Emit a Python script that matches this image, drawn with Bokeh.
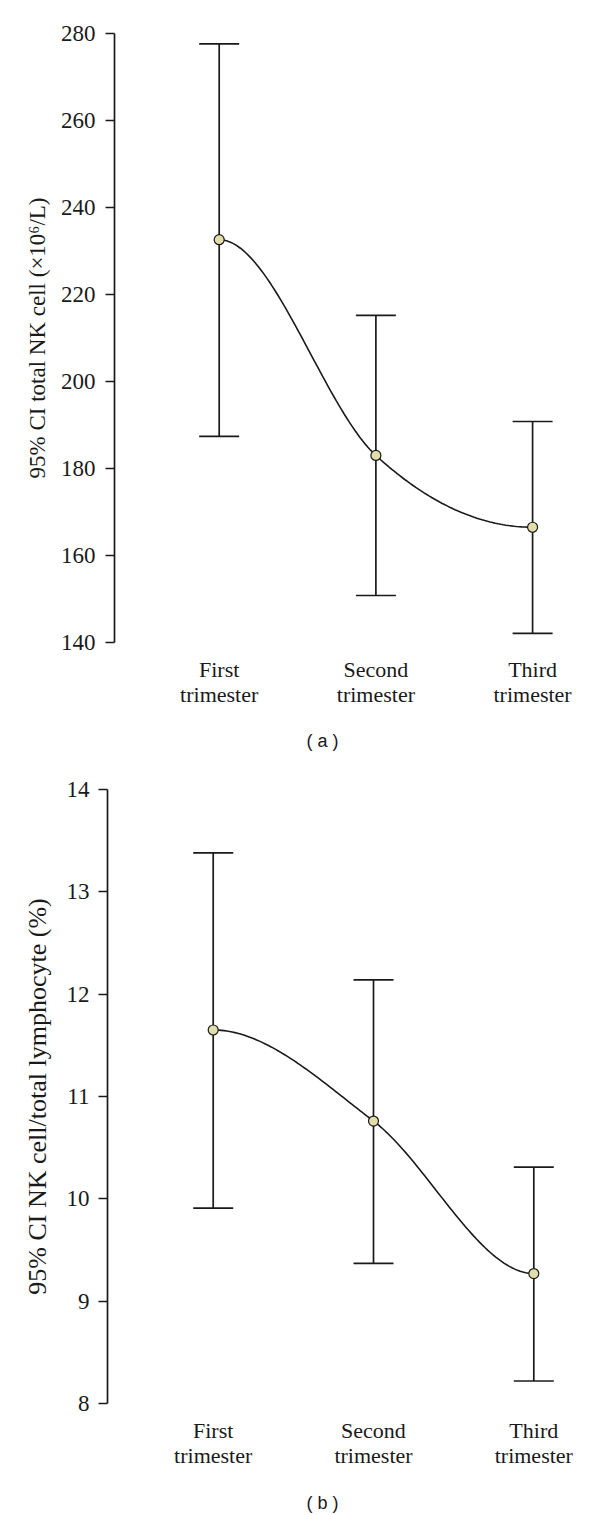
from bokeh.plotting import figure
from bokeh.models import Range1d, FixedTicker, Whisker, TeeHead, ColumnDataSource
from bokeh.core.properties import value
from bokeh.embed import file_html
from bokeh.resources import INLINE
import numpy as np

# ---- data ----
categories = ["First\ntrimester", "Second\ntrimester", "Third\ntrimester"]
x_pos = [1, 2, 3]

nk_mean = [232.6, 183.0, 166.5]
nk_upper = [277.6, 215.2, 190.8]
nk_lower = [187.4, 150.8, 142.1]
nk_ticks = [140, 160, 180, 200, 220, 240, 260, 280]

pct_mean = [11.65, 10.76, 9.27]
pct_upper = [13.38, 12.14, 10.31]
pct_lower = [9.91, 9.37, 8.22]
pct_ticks = [8, 9, 10, 11, 12, 13, 14]

captions = ["( a )", "( b )"]

SERIF = "Liberation Serif"
INK = "#1a1a1a"
W = 592


def smooth_curve(xs, ys, n=60):
    xs = np.asarray(xs, float)
    ys = np.asarray(ys, float)
    m = np.zeros(len(xs))
    for i in range(1, len(xs) - 1):
        m[i] = (ys[i + 1] - ys[i - 1]) / (xs[i + 1] - xs[i - 1])
    out_x, out_y = [], []
    for i in range(len(xs) - 1):
        h = xs[i + 1] - xs[i]
        t = np.linspace(0, 1, n)
        h00 = 2 * t**3 - 3 * t**2 + 1
        h10 = t**3 - 2 * t**2 + t
        h01 = -2 * t**3 + 3 * t**2
        h11 = t**3 - t**2
        yy = h00 * ys[i] + h10 * h * m[i] + h01 * ys[i + 1] + h11 * h * m[i + 1]
        out_x.extend(list(xs[i] + t * h))
        out_y.extend(list(yy))
    return out_x, out_y


def make_panel(mean, upper, lower, ticks, ylabel, height, x_range, y_range,
               border_left, border_top, border_bottom,
               label_standoff, label_size, tick_standoff):
    p = figure(width=W, height=height, output_backend="svg", toolbar_location=None,
               x_range=Range1d(*x_range), y_range=Range1d(*y_range),
               min_border_left=border_left, min_border_right=10,
               min_border_top=border_top, min_border_bottom=border_bottom)
    p.outline_line_color = None
    p.grid.visible = False
    p.background_fill_color = "white"
    p.border_fill_color = "white"

    src = ColumnDataSource(dict(x=x_pos, mean=mean, upper=upper, lower=lower))
    w = Whisker(source=src, base="x", upper="upper", lower="lower", dimension="height",
                line_width=1.7, line_color=INK,
                upper_head=TeeHead(size=40, line_width=1.7, line_color=INK),
                lower_head=TeeHead(size=40, line_width=1.7, line_color=INK),
                level="underlay")
    p.add_layout(w)

    cx, cy = smooth_curve(x_pos, mean)
    p.line(cx, cy, line_width=1.6, line_color=INK)
    p.scatter("x", "mean", source=src, size=10, fill_color="#e2deab",
              line_color=INK, line_width=1.2)

    ya = p.yaxis[0]
    ya.ticker = FixedTicker(ticks=ticks)
    ya.axis_line_width = 1.7
    ya.axis_line_color = INK
    ya.major_tick_line_width = 1.7
    ya.major_tick_line_color = INK
    ya.major_tick_out = 9
    ya.major_tick_in = 0
    ya.minor_tick_line_color = None
    ya.major_label_text_font = SERIF
    ya.major_label_text_font_size = "23px"
    ya.major_label_text_color = INK
    ya.major_label_standoff = tick_standoff
    ya.axis_label = ylabel
    ya.axis_label_text_font = SERIF
    ya.axis_label_text_font_size = label_size
    ya.axis_label_text_font_style = "normal"
    ya.axis_label_text_color = INK
    ya.axis_label_standoff = label_standoff

    xa = p.xaxis[0]
    xa.ticker = FixedTicker(ticks=x_pos)
    xa.major_label_overrides = {x: c for x, c in zip(x_pos, categories)}
    xa.axis_line_color = None
    xa.major_tick_line_color = None
    xa.minor_tick_line_color = None
    xa.major_tick_out = 0
    xa.major_tick_in = 0
    xa.major_label_text_font = SERIF
    xa.major_label_text_font_size = "22px"
    xa.major_label_text_line_height = 1.0
    xa.major_label_text_color = INK
    xa.major_label_standoff = 14
    return p


def make_caption(text, height, cx, cy_from_top):
    c = figure(width=W, height=height, output_backend="svg", toolbar_location=None,
               x_range=Range1d(0, W), y_range=Range1d(0, height),
               x_axis_type=None, y_axis_type=None, min_border=0)
    c.outline_line_color = None
    c.grid.visible = False
    c.text(x=[cx], y=[height - cy_from_top], text=[text], text_align="center",
           text_baseline="middle", text_font=value("Liberation Sans"),
           text_font_size="18px", text_color=INK)
    return c


p1 = make_panel(nk_mean, nk_upper, nk_lower, nk_ticks,
                "95% CI total NK cell (\u00d710\u2076/L)",
                height=712, x_range=(0.3319, 3.3185), y_range=(140, 280),
                border_left=114, border_top=33, border_bottom=70,
                label_standoff=8, label_size="23px", tick_standoff=10)
cap1 = make_caption(captions[0], 58, 322, 28)
p2 = make_panel(pct_mean, pct_upper, pct_lower, pct_ticks,
                "95% CI NK cell/total lymphocyte (%)",
                height=703, x_range=(0.3406, 3.3038), y_range=(8, 14),
                border_left=107, border_top=19, border_bottom=70,
                label_standoff=12, label_size="26px", tick_standoff=9)
cap2 = make_caption(captions[1], 42, 322, 29)

open("out.html", "w").write(file_html([p1, cap1, p2, cap2], INLINE))
